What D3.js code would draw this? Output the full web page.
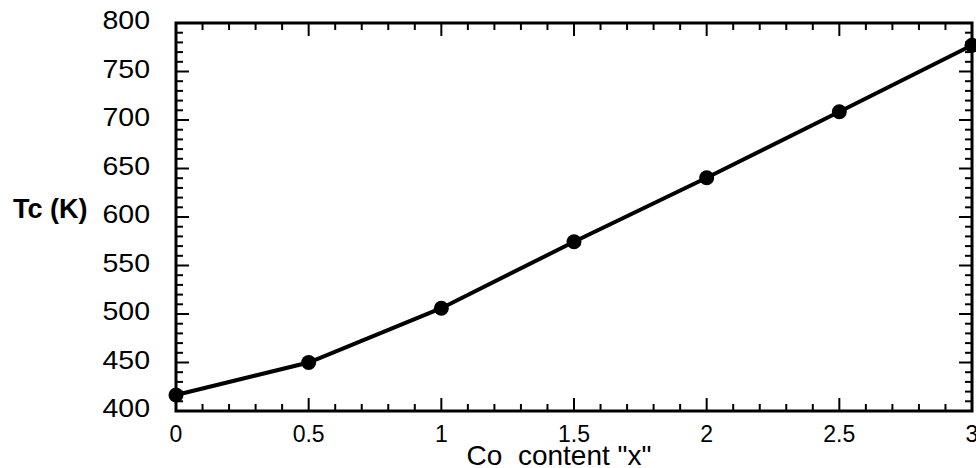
<!DOCTYPE html>
<html>
<head>
<meta charset="utf-8">
<script src="https://cdn.jsdelivr.net/npm/d3@7"></script>
<style>
  body { margin: 0; background: #fff; }
  text { font-family: "Liberation Sans", Arial, Helvetica, sans-serif; fill: #000; }
</style>
</head>
<body>
<div id="chart"></div>
<script>
// data
const coContent = [0, 0.5, 1, 1.5, 2, 2.5, 3];
const tcValues = [416.5, 450, 506, 574.5, 640.5, 708.5, 777];
const xTicks = [0, 0.5, 1, 1.5, 2, 2.5, 3];
const yTicks = [400, 450, 500, 550, 600, 650, 700, 750, 800];

const W = 976, H = 468;
const margin = {top: 23, right: 4, bottom: 57, left: 176};
const width = W - margin.left - margin.right;
const height = H - margin.top - margin.bottom;

const svg = d3.select('#chart')
    .append('svg')
    .attr('width', W)
    .attr('height', H);

const g = svg.append('g')
    .attr('transform', `translate(${margin.left},${margin.top})`);

const x = d3.scaleLinear().domain([0, 3]).range([0, width]);
const y = d3.scaleLinear().domain([400, 800]).range([height, 0]);

// minor ticks
const xMinor = d3.range(0, 3.0001, 0.1).map(d => +d.toFixed(2));
const yMinor = d3.range(400, 800.0001, 10);

const tickW = 2;
// bottom + top
[[height, -1], [0, 1]].forEach(([yy, dir]) => {
    g.selectAll(null).data(xMinor).enter().append('line')
        .attr('x1', d => x(d)).attr('x2', d => x(d))
        .attr('y1', yy)
        .attr('y2', d => yy + dir * (xTicks.includes(d) ? 13 : 7))
        .attr('stroke', '#000').attr('stroke-width', tickW);
});
// left + right
[[0, 1], [width, -1]].forEach(([xx, dir]) => {
    g.selectAll(null).data(yMinor).enter().append('line')
        .attr('y1', d => y(d)).attr('y2', d => y(d))
        .attr('x1', xx)
        .attr('x2', d => xx + dir * (d % 50 === 0 ? 13 : 7))
        .attr('stroke', '#000').attr('stroke-width', tickW);
});

// frame
g.append('rect')
    .attr('width', width)
    .attr('height', height)
    .attr('fill', 'none')
    .attr('stroke', '#000')
    .attr('stroke-width', 3);

// tick labels
g.selectAll('.xl').data(xTicks).enter().append('text')
    .attr('class', 'xl')
    .attr('x', d => x(d))
    .attr('y', height + 31)
    .attr('text-anchor', 'middle')
    .style('font-size', '23px')
    .text(d => d);

g.selectAll('.yl').data(yTicks).enter().append('text')
    .attr('class', 'yl')
    .attr('transform', d => `translate(-26,${y(d) + 6}) scale(1.14,1)`)
    .attr('text-anchor', 'end')
    .style('font-size', '25px')
    .text(d => d);

// axis titles
svg.append('text')
    .attr('x', 559)
    .attr('y', 465)
    .attr('text-anchor', 'middle')
    .style('font-size', '28px')
    .attr('xml:space', 'preserve')
    .text('Co  content "x"');

svg.append('text')
    .attr('x', 13)
    .attr('y', 218)
    .style('font-size', '27px')
    .style('font-weight', 'bold')
    .text('Tc (K)');

// data
const data = coContent.map((c, i) => ({x: c, y: tcValues[i]}));
const line = d3.line().x(d => x(d.x)).y(d => y(d.y));

g.append('path')
    .datum(data)
    .attr('fill', 'none')
    .attr('stroke', '#000')
    .attr('stroke-width', 4)
    .attr('d', line);

g.selectAll('.pt').data(data).enter().append('circle')
    .attr('class', 'pt')
    .attr('cx', d => x(d.x))
    .attr('cy', d => y(d.y))
    .attr('r', 7.5)
    .attr('fill', '#000');
</script>
</body>
</html>
